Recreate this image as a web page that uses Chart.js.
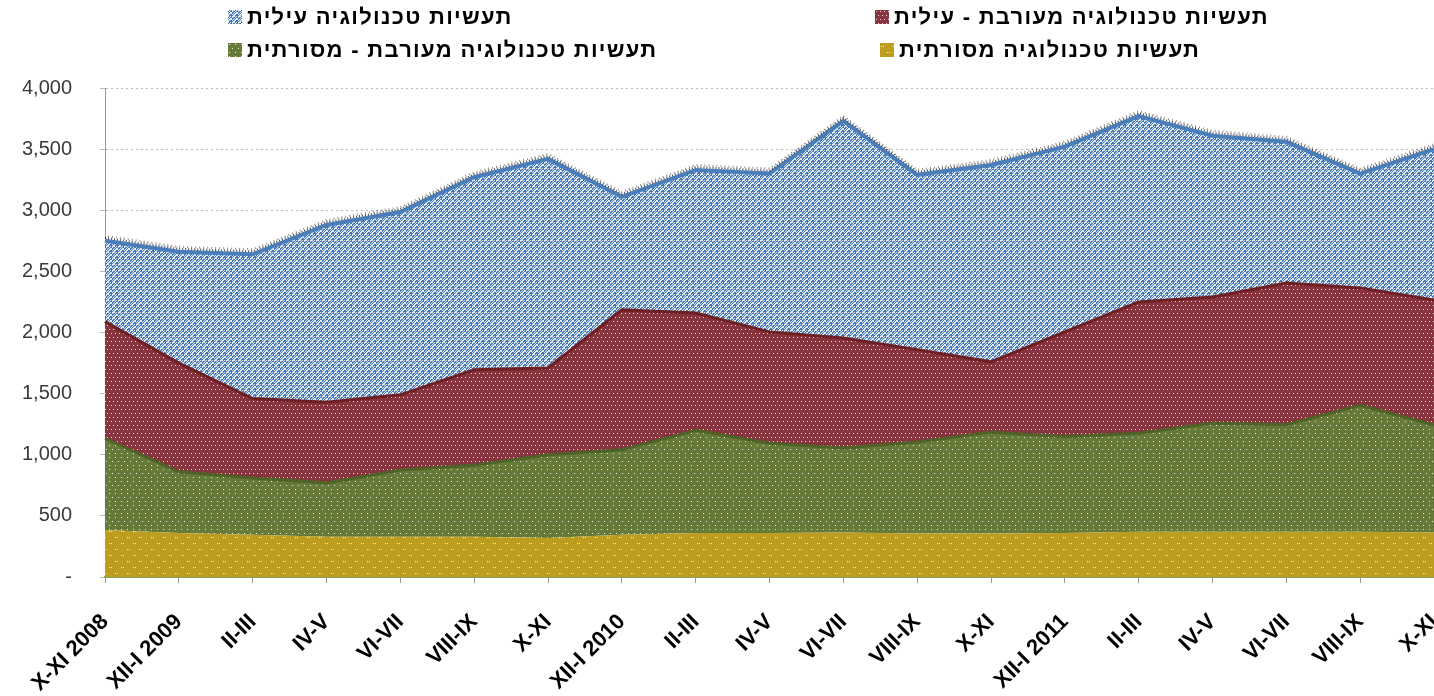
<!DOCTYPE html>
<html>
<head>
<meta charset="utf-8">
<script src="https://cdn.jsdelivr.net/npm/chart.js@4.4.1/dist/chart.umd.min.js"></script>
<style>
    html, body { margin: 0; padding: 0; background: #fff; overflow: hidden; }
    #wrap { position: relative; width: 1434px; height: 696px; overflow: hidden; }
    #chart { position: absolute; left: 0; top: 0; }
    .leg { position: absolute; display: flex; align-items: center; white-space: nowrap;
           font: bold 22px "Liberation Sans", Arial, sans-serif; color: #000; letter-spacing: 1.3px; }
    .leg canvas { margin-right: 5px; }
    .leg span { direction: rtl; unicode-bidi: embed; }
</style>
</head>
<body>
<div id="wrap">
    <canvas id="chart" width="1434" height="696"></canvas>
    <div id="legend"></div>
</div>
<script>
    // bimonthly periods
    var labels = ['X-XI 2008', 'XII-I 2009', 'II-III', 'IV-V', 'VI-VII', 'VIII-IX', 'X-XI',
                  'XII-I 2010', 'II-III', 'IV-V', 'VI-VII', 'VIII-IX', 'X-XI',
                  'XII-I 2011', 'II-III', 'IV-V', 'VI-VII', 'VIII-IX', 'X-XI'];

    // series, bottom to top of the stack
    var traditional      = [385, 360, 345, 330, 330, 330, 320, 345, 360, 360, 365, 355, 355, 360, 370, 370, 370, 370, 365];
    var mixedTraditional = [750, 500, 465, 440, 545, 585, 680, 695, 840, 735, 690, 750, 830, 790, 805, 890, 875, 1035, 880];
    var mixedHigh        = [955, 890, 650, 660, 615, 780, 710, 1145, 960, 910, 900, 755, 575, 855, 1075, 1030, 1160, 960, 1020];
    var highTech         = [660, 910, 1180, 1450, 1495, 1575, 1710, 925, 1170, 1295, 1775, 1430, 1610, 1515, 1520, 1320, 1155, 935, 1235];

    var seriesNames = ['תעשיות טכנולוגיה מסורתית', 'תעשיות טכנולוגיה מעורבת - מסורתית',
                       'תעשיות טכנולוגיה מעורבת - עילית', 'תעשיות טכנולוגיה עילית'];

    var yTicks = [0, 500, 1000, 1500, 2000, 2500, 3000, 3500, 4000];

    function makePattern(base, size, white) {
        var c = document.createElement('canvas');
        c.width = size; c.height = size;
        var g = c.getContext('2d');
        g.fillStyle = base;
        g.fillRect(0, 0, size, size);
        g.fillStyle = 'rgba(255,255,255,0.85)';
        for (var y = 0; y < size; y++) {
            for (var x = 0; x < size; x++) {
                if (white(x, y)) g.fillRect(x, y, 1, 1);
            }
        }
        return c;
    }

    var tiles = [
        makePattern('#bd9d1f', 12, function(x, y) { return (y === 3 || y === 9) && (x % 6 === 1 || x % 6 === 3) && (y === 3 ? x < 6 : x >= 6); }),
        makePattern('#667a39', 12, function(x, y) { return (y % 4 === 1) && ((y % 8 === 1) ? (x % 6 === 1) : (x % 6 === 4)); }),
        makePattern('#88343f', 8, function(x, y) { return (y % 4 === 1) && ((y % 8 === 1) ? (x % 4 === 1) : (x % 4 === 3)); }),
        makePattern('#4477b8', 6, function(x, y) { return x === y || x === 5 - y || (y === 0 && x % 2 === 0) || (x === 0 && y % 2 === 0) || (y === 3 && x % 2 === 1); })
    ];
    var ctx = document.getElementById('chart').getContext('2d');
    var fills = tiles.map(function(t) { return ctx.createPattern(t, 'repeat'); });
    var borders = ['#bd9d1f', '#4f6228', '#6e1f22', '#4a7ebb'];
    var borderWidths = [0, 3, 3, 4];

    var seriesData = [traditional, mixedTraditional, mixedHigh, highTech];

    // dotted dark fringe drawn over the top edge of the stack
    var topFringe = {
        id: 'topFringe',
        afterDatasetDraw: function(chart, args) {
            if (args.index !== 3) return;
            var pts = args.meta.data;
            var c = chart.ctx;
            c.save();
            [3, 5].forEach(function(off, k) {
                c.beginPath();
                pts.forEach(function(p, i) {
                    if (i === 0) c.moveTo(p.x, p.y - off); else c.lineTo(p.x, p.y - off);
                });
                c.setLineDash(k ? [1, 3] : [1, 2]);
                c.lineDashOffset = k;
                c.strokeStyle = k ? 'rgba(0,0,0,0.45)' : 'rgba(0,0,0,0.7)';
                c.lineWidth = 2;
                c.stroke();
            });
            c.restore();
        }
    };

    var chart = new Chart(ctx, {
        type: 'line',
        data: {
            labels: labels,
            datasets: seriesData.map(function(d, i) {
                return {
                    label: seriesNames[i],
                    data: d,
                    backgroundColor: fills[i],
                    borderColor: borders[i],
                    borderWidth: borderWidths[i],
                    fill: i === 0 ? 'origin' : '-1',
                    pointRadius: 0,
                    tension: 0
                };
            })
        },
        options: {
            responsive: false,
            animation: false,
            layout: { padding: { top: 88, right: 0, left: 0, bottom: 0 } },
            plugins: {
                legend: { display: false },
                tooltip: { enabled: false },
                filler: { propagate: false }
            },
            scales: {
                x: {
                    offset: false,
                    grid: { drawOnChartArea: false, tickLength: 6, color: '#999' },
                    border: { color: '#8aa35a', width: 2 },
                    ticks: {
                        autoSkip: false, maxRotation: 45, minRotation: 45, padding: 26,
                        color: '#000',
                        font: { family: 'Liberation Sans', size: 22, weight: 'bold' }
                    },
                    afterFit: function(s) {
                        s.height = 119;
                        // last label may run off the page, like the original
                        s.paddingRight = 0;
                        s.paddingLeft = 0;
                    }
                },
                y: {
                    stacked: true,
                    min: 0, max: 4000,
                    afterBuildTicks: function(s) { s.ticks = yTicks.map(function(v) { return { value: v }; }); },
                    grid: { color: '#b8b8b8', lineWidth: 1, tickLength: 5 },
                    border: { color: '#999', width: 1, dash: [2, 3] },
                    ticks: {
                        padding: 28,
                        color: '#3a3a3a',
                        font: { family: 'Liberation Sans', size: 20 },
                        callback: function(v) { return v === 0 ? '-' : v.toLocaleString('en-US'); }
                    },
                    afterFit: function(s) { s.width = 105; }
                }
            }
        },
        plugins: [topFringe]
    });

    // legend: two rows, box left of the Hebrew text
    var legendPos = [
        { ds: 3, left: 228, top: 4 },
        { ds: 2, left: 875, top: 4 },
        { ds: 1, left: 228, top: 37 },
        { ds: 0, left: 880, top: 37 }
    ];
    var legend = document.getElementById('legend');
    legendPos.forEach(function(p) {
        var item = document.createElement('div');
        item.className = 'leg';
        item.style.left = p.left + 'px';
        item.style.top = p.top + 'px';
        var box = document.createElement('canvas');
        box.width = 14; box.height = 14;
        var bc = box.getContext('2d');
        bc.fillStyle = bc.createPattern(tiles[p.ds], 'repeat');
        bc.fillRect(0, 0, 14, 14);
        var txt = document.createElement('span');
        txt.textContent = seriesNames[p.ds];
        item.appendChild(box);
        item.appendChild(txt);
        legend.appendChild(item);
    });
</script>
</body>
</html>
